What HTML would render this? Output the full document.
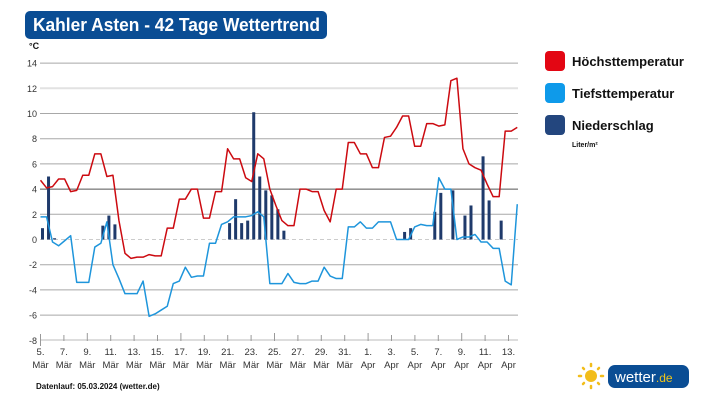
<!DOCTYPE html>
<html><head><meta charset="utf-8"><style>
html,body{margin:0;padding:0;background:#fff;width:717px;height:403px;overflow:hidden;font-family:"Liberation Sans",sans-serif}
svg{position:absolute;left:0;top:0}
</style></head><body>
<svg id="c" width="717" height="403" font-family="Liberation Sans, sans-serif">
  <rect x="25" y="11" width="302" height="28" rx="5" fill="#0a4d94"/>
  <text x="33" y="31" fill="#fff" font-size="18" font-weight="bold" textLength="287" lengthAdjust="spacingAndGlyphs">Kahler Asten - 42 Tage Wettertrend</text>
  <text x="29" y="49" font-size="9" font-weight="bold" fill="#111">°C</text>
  <g id="grid"></g><g id="bars"></g><g id="lines"></g><g id="xaxis"></g>
  <g>
    <rect x="545" y="51" width="20" height="20" rx="4" fill="#e30613"/>
    <text x="572" y="66" font-size="13" font-weight="bold" fill="#111">Höchsttemperatur</text>
    <rect x="545" y="83" width="20" height="20" rx="4" fill="#0e9aea"/>
    <text x="572" y="98" font-size="13" font-weight="bold" fill="#111">Tiefsttemperatur</text>
    <rect x="545" y="115" width="20" height="20" rx="4" fill="#23467e"/>
    <text x="572" y="130" font-size="13" font-weight="bold" fill="#111">Niederschlag</text>
    <text x="572" y="147" font-size="7" font-weight="bold" fill="#111">Liter/m²</text>
  </g>
  <text x="36" y="389" font-size="8" font-weight="bold" fill="#111">Datenlauf: 05.03.2024 (wetter.de)</text>
  <g>
    <circle cx="591" cy="376" r="6" fill="#f2bd1a"/>
    <g stroke="#f2bd1a" stroke-width="2.5" stroke-linecap="round">
      <line x1="591" y1="364" x2="591" y2="366"/><line x1="591" y1="386" x2="591" y2="388"/>
      <line x1="579" y1="376" x2="581" y2="376"/><line x1="601" y1="376" x2="603" y2="376"/>
      <line x1="583" y1="368" x2="584" y2="369"/><line x1="598" y1="383" x2="599" y2="384"/>
      <line x1="583" y1="384" x2="584" y2="383"/><line x1="598" y1="369" x2="599" y2="368"/>
    </g>
    <rect x="608" y="365" width="81" height="23" rx="7" fill="#0a4d94"/>
    <text x="615" y="382" font-size="15" fill="#fff">wetter<tspan fill="#f2c618" font-size="12">.de</tspan></text>
  </g>
</svg>
<script>
const yTicks=[14,12,10,8,6,4,2,0,-2,-4,-6,-8];
const dayLabels=["5.","7.","9.","11.","13.","15.","17.","19.","21.","23.","25.","27.","29.","31.","1.","3.","5.","7.","9.","11.","13."];
const monthLabels=["Mär","Mär","Mär","Mär","Mär","Mär","Mär","Mär","Mär","Mär","Mär","Mär","Mär","Mär","Apr","Apr","Apr","Apr","Apr","Apr","Apr"];
const maxTemp=[4.7,4.1,4.2,4.8,4.8,3.8,3.9,5.1,5.1,6.8,6.8,5.0,5.1,1.5,-1.1,-1.5,-1.4,-1.4,-1.2,-1.3,-1.3,0.9,0.9,3.2,3.2,4.0,4.0,1.7,1.7,3.8,3.8,7.2,6.4,6.4,4.9,4.6,6.8,6.4,4.0,2.7,1.5,1.1,1.1,4.0,4.0,3.8,3.8,2.3,1.4,4.0,4.0,7.7,7.7,6.8,6.8,5.7,5.7,8.1,8.2,8.9,9.8,9.8,7.4,7.4,9.2,9.2,9.0,9.1,12.6,12.8,7.2,6.0,5.7,5.5,4.4,3.4,3.4,8.6,8.6,8.9];
const minTemp=[1.8,1.8,-0.2,-0.5,-0.1,0.3,-3.4,-3.4,-3.4,-0.6,-0.3,1.4,-2.0,-3.1,-4.3,-4.3,-4.3,-3.3,-6.1,-5.9,-5.6,-5.3,-3.5,-3.3,-2.2,-3.0,-2.9,-2.9,-0.3,-0.3,1.2,1.4,1.8,1.8,1.8,1.9,2.2,1.8,-3.5,-3.5,-3.5,-2.7,-3.4,-3.5,-3.5,-3.3,-3.3,-2.2,-2.9,-3.1,-3.1,1.0,1.0,1.4,0.9,0.9,1.4,1.4,1.4,0.0,0.0,0.0,1.0,1.2,1.1,1.1,4.9,4.0,4.0,0.0,0.2,0.2,0.4,-0.2,-0.2,-0.7,-0.7,-3.3,-3.6,2.8];
const precipSlots=[0,1,2,10,11,12,31,32,33,34,35,36,37,38,39,40,60,61,65,66,68,70,71,73,74,76];
const precipValues=[0.9,5.0,0.1,1.1,1.9,1.2,1.3,3.2,1.3,1.5,10.1,5.0,3.9,3.5,2.4,0.7,0.6,0.9,2.2,3.7,3.9,1.9,2.7,6.6,3.1,1.5];
const NS='http://www.w3.org/2000/svg';
const y=v=>239.5-(v)*12.6;
const xHalf=i=>40.5+i*6.035;
const xLab=i=>40.5+i*23.4;
function mk(p,t,a){const e=document.createElementNS(NS,t);for(const k in a)e.setAttribute(k,a[k]);p.appendChild(e);return e;}
const grid=document.getElementById('grid');
yTicks.forEach(v=>{
  let col=v===4?'#555':(v===12?'#e2e2e2':'#a8a8a8');
  if(v===0){const l=mk(grid,'line',{x1:40,x2:518,y1:y(v),y2:y(v),stroke:'#ccc','stroke-dasharray':'4 3'});
    
    }
  else if(v!==-8){const l=mk(grid,'line',{x1:40,x2:518,y1:y(v),y2:y(v),stroke:col,'stroke-width':v===12?2:1});
    
    }
  const t=mk(grid,'text',{x:37,y:y(v)+3.5,'text-anchor':'end','font-size':9,fill:'#333'});t.textContent=v;
  
  
});
const bars=document.getElementById('bars');
precipSlots.forEach((s,i)=>{
  const v=precipValues[i];const r=mk(bars,'rect',{x:xHalf(s)+0.5,y:y(v),width:3,height:Math.max(0.5,y(0)-y(v)),fill:'#1f3a6b'});
  
  
});
const lines=document.getElementById('lines');
function line(arr,col,name){const p=mk(lines,'polyline',{points:arr.map((v,i)=>xHalf(i)+','+y(v)).join(' '),fill:'none',stroke:col,'stroke-width':1.5,'stroke-linejoin':'round'});
  
  }
line(minTemp,'#1e95db','min-temp-line');
line(maxTemp,'#cc0a10','max-temp-line');
const xa=document.getElementById('xaxis');
const ax=mk(xa,'line',{x1:40,x2:518,y1:340,y2:340,stroke:'#bbb'});


mk(xa,'line',{x1:40.5,x2:40.5,y1:334,y2:346,stroke:'#999'});
dayLabels.forEach((d,i)=>{
  const x=xLab(i);
  mk(xa,'line',{x1:x,x2:x,y1:i%4===2?333:335,y2:341,stroke:'#999'});
  const t=mk(xa,'text',{x:x,y:355,'text-anchor':'middle','font-size':9.5,fill:'#333'});t.textContent=d;
  
  
  const m=mk(xa,'text',{x:x,y:368,'text-anchor':'middle','font-size':9.5,fill:'#333'});m.textContent=monthLabels[i];
  
  
});
</script>
</body></html>
